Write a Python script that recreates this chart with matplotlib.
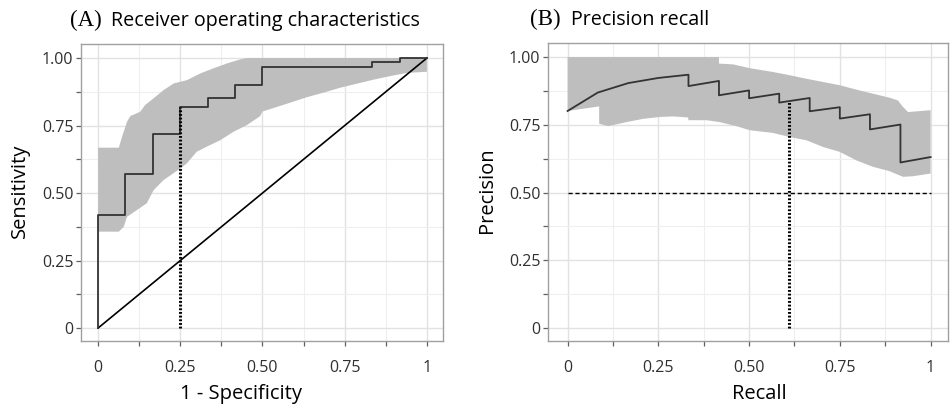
import matplotlib
matplotlib.use("Agg")
import matplotlib.pyplot as plt
from matplotlib.ticker import FixedLocator

# ---------------- data ----------------
roc_fpr = [0.0, 0.0, 0.083, 0.083, 0.167, 0.167, 0.25, 0.25, 0.333, 0.333,
           0.417, 0.417, 0.5, 0.5, 0.833, 0.833, 0.917, 0.917, 1.0]
roc_tpr = [0.0, 0.419, 0.419, 0.570, 0.570, 0.719, 0.719, 0.817, 0.817, 0.852,
           0.852, 0.901, 0.901, 0.968, 0.968, 0.985, 0.985, 1.0, 1.0]

roc_up_x = [0.0, 0.063, 0.073, 0.088, 0.098, 0.128, 0.143, 0.169, 0.199, 0.230,
            0.270, 0.311, 0.351, 0.392, 0.432, 0.453, 1.0]
roc_up_y = [0.668, 0.668, 0.709, 0.764, 0.785, 0.801, 0.826, 0.851, 0.881, 0.906,
            0.918, 0.943, 0.962, 0.980, 0.995, 1.0, 1.0]
roc_lo_x = [0.0, 0.063, 0.078, 0.088, 0.118, 0.148, 0.169, 0.199, 0.230, 0.250,
            0.270, 0.300, 0.331, 0.372, 0.412, 0.453, 0.493, 0.500, 0.534, 0.585,
            0.635, 0.686, 0.736, 0.787, 0.838, 0.888, 0.939, 1.0]
roc_lo_y = [0.357, 0.357, 0.375, 0.412, 0.437, 0.462, 0.511, 0.548, 0.574, 0.591,
            0.610, 0.653, 0.672, 0.696, 0.727, 0.752, 0.785, 0.802, 0.815, 0.835,
            0.855, 0.872, 0.890, 0.905, 0.920, 0.933, 0.945, 0.949]
roc_cut_fpr = 0.25
roc_cut_tpr = 0.817
diag = [0.0, 1.0]

pr_recall = [0.0, 0.083, 0.167, 0.25, 0.333, 0.333, 0.417, 0.417, 0.5, 0.5,
             0.583, 0.583, 0.667, 0.667, 0.75, 0.75, 0.833, 0.833, 0.917, 0.917, 1.0]
pr_precision = [0.801, 0.869, 0.904, 0.923, 0.935, 0.893, 0.912, 0.859, 0.877, 0.848,
                0.865, 0.832, 0.849, 0.800, 0.815, 0.773, 0.789, 0.733, 0.751, 0.611, 0.631]

pr_up_x = [0.0, 0.417, 0.417, 0.456, 0.502, 0.566, 0.612, 0.658, 0.704, 0.75,
           0.795, 0.841, 0.887, 0.910, 0.924, 0.938, 1.0]
pr_up_y = [1.0, 1.0, 0.976, 0.973, 0.959, 0.945, 0.933, 0.920, 0.908, 0.896,
           0.880, 0.865, 0.850, 0.840, 0.816, 0.797, 0.804]
pr_lo_x = [0.0, 0.087, 0.087, 0.112, 0.162, 0.208, 0.254, 0.291, 0.332, 0.333,
           0.383, 0.419, 0.465, 0.502, 0.566, 0.612, 0.658, 0.704, 0.75, 0.795,
           0.841, 0.887, 0.924, 0.95, 1.0]
pr_lo_y = [0.801, 0.818, 0.754, 0.745, 0.760, 0.772, 0.779, 0.781, 0.777, 0.767,
           0.767, 0.760, 0.745, 0.730, 0.720, 0.705, 0.693, 0.668, 0.650, 0.619,
           0.595, 0.579, 0.558, 0.560, 0.570]
pr_cut_recall = 0.61
pr_cut_precision = 0.834
pr_baseline = 0.5

ticks = [0, 0.25, 0.5, 0.75, 1.0]
minor_ticks = [0.125, 0.375, 0.625, 0.875]
x_tick_labels = ["0", "0.25", "0.50", "0.75", "1"]
y_tick_labels = ["0", "0.25", "0.50", "0.75", "1.00"]

# ---------------- style ----------------
SANS = ["Open Sans", "DejaVu Sans"]
SERIF = ["Liberation Serif", "DejaVu Serif"]
BAND = "#bebebe"
LINE = "#333333"

W, H = 950, 405
fig = plt.figure(figsize=(W / 100, H / 100), dpi=100)


def frac_box(l, t, r, b):
    return [l / W, 1 - b / H, (r - l) / W, (b - t) / H]


def style_axes(ax, xlim, ylim):
    ax.set_xlim(*xlim)
    ax.set_ylim(*ylim)
    ax.xaxis.set_major_locator(FixedLocator(ticks))
    ax.yaxis.set_major_locator(FixedLocator(ticks))
    ax.xaxis.set_minor_locator(FixedLocator(minor_ticks))
    ax.yaxis.set_minor_locator(FixedLocator(minor_ticks))
    ax.set_xticklabels(x_tick_labels, family=SANS, fontsize=11.5, color="#303030")
    ax.set_yticklabels(y_tick_labels, family=SANS, fontsize=11.5, color="#303030")
    ax.grid(True, which="major", color="#e2e2e2", lw=1.0, zorder=0)
    ax.grid(True, which="minor", color="#efefef", lw=0.8, zorder=0)
    ax.set_axisbelow(True)
    for s in ax.spines.values():
        s.set_color("#a0a0a0")
        s.set_linewidth(1.0)
    ax.tick_params(which="both", direction="out", length=3.5, width=0.9, color="#606060")
    ax.tick_params(axis="x", which="major", pad=10)
    ax.tick_params(axis="y", which="major", pad=2)


# ---------------- panel A ----------------
axA = fig.add_axes(frac_box(81, 44, 443, 341))
style_axes(axA, (-0.052, 1.049), (-0.048, 1.052))
polyA_x = roc_up_x + roc_lo_x[::-1]
polyA_y = roc_up_y + roc_lo_y[::-1]
axA.fill(polyA_x, polyA_y, color=BAND, lw=0, zorder=1)
axA.plot(diag, diag, color="black", lw=1.2, zorder=3)
axA.plot(roc_fpr, roc_tpr, color=LINE, lw=1.3, zorder=4)
axA.plot([roc_cut_fpr, roc_cut_fpr], [0, roc_cut_tpr], color="black", lw=2.2,
         ls=(0, (0.6, 0.6)), zorder=5)
axA.set_xlabel("1 - Specificity", family=SANS, fontsize=14.5)
axA.set_ylabel("Sensitivity", family=SANS, fontsize=14.5)
axA.xaxis.set_label_coords(160 / 362, -53 / 297, transform=axA.transAxes)
axA.xaxis.label.set_va("center")
axA.yaxis.set_label_coords(-61 / 362, 0.505, transform=axA.transAxes)
axA.yaxis.label.set_va("center")

# ---------------- panel B ----------------
axB = fig.add_axes(frac_box(548, 43, 948, 341))
style_axes(axB, (-0.054, 1.048), (-0.048, 1.052))
polyB_x = pr_up_x + pr_lo_x[::-1]
polyB_y = pr_up_y + pr_lo_y[::-1]
axB.fill(polyB_x, polyB_y, color=BAND, lw=0, zorder=1)
axB.plot([0, 1], [pr_baseline, pr_baseline], color="black", lw=1.0,
         ls=(0, (3, 2)), zorder=3)
axB.plot(pr_recall, pr_precision, color=LINE, lw=1.3, zorder=4)
axB.plot([pr_cut_recall, pr_cut_recall], [0, pr_cut_precision], color="black", lw=2.2,
         ls=(0, (0.6, 0.6)), zorder=5)
axB.set_xlabel("Recall", family=SANS, fontsize=14.5)
axB.set_ylabel("Precision", family=SANS, fontsize=14.5)
axB.xaxis.set_label_coords(211 / 400, -53 / 298, transform=axB.transAxes)
axB.xaxis.label.set_va("center")
axB.yaxis.set_label_coords(-61 / 400, 0.505, transform=axB.transAxes)
axB.yaxis.label.set_va("center")

# ---------------- titles ----------------
fig.text(70 / W, 1 - 26 / H, "(A)", family=SERIF, fontsize=16.5, va="baseline", ha="left")
fig.text(111 / W, 1 - 26 / H, "Receiver operating characteristics", family=SANS,
         fontsize=14.2, va="baseline", ha="left")
fig.text(530 / W, 1 - 25 / H, "(B)", family=SERIF, fontsize=16.5, va="baseline", ha="left")
fig.text(571 / W, 1 - 25 / H, "Precision recall", family=SANS, fontsize=14.2,
         va="baseline", ha="left")

fig.savefig("out.png", dpi=100, facecolor="white")
